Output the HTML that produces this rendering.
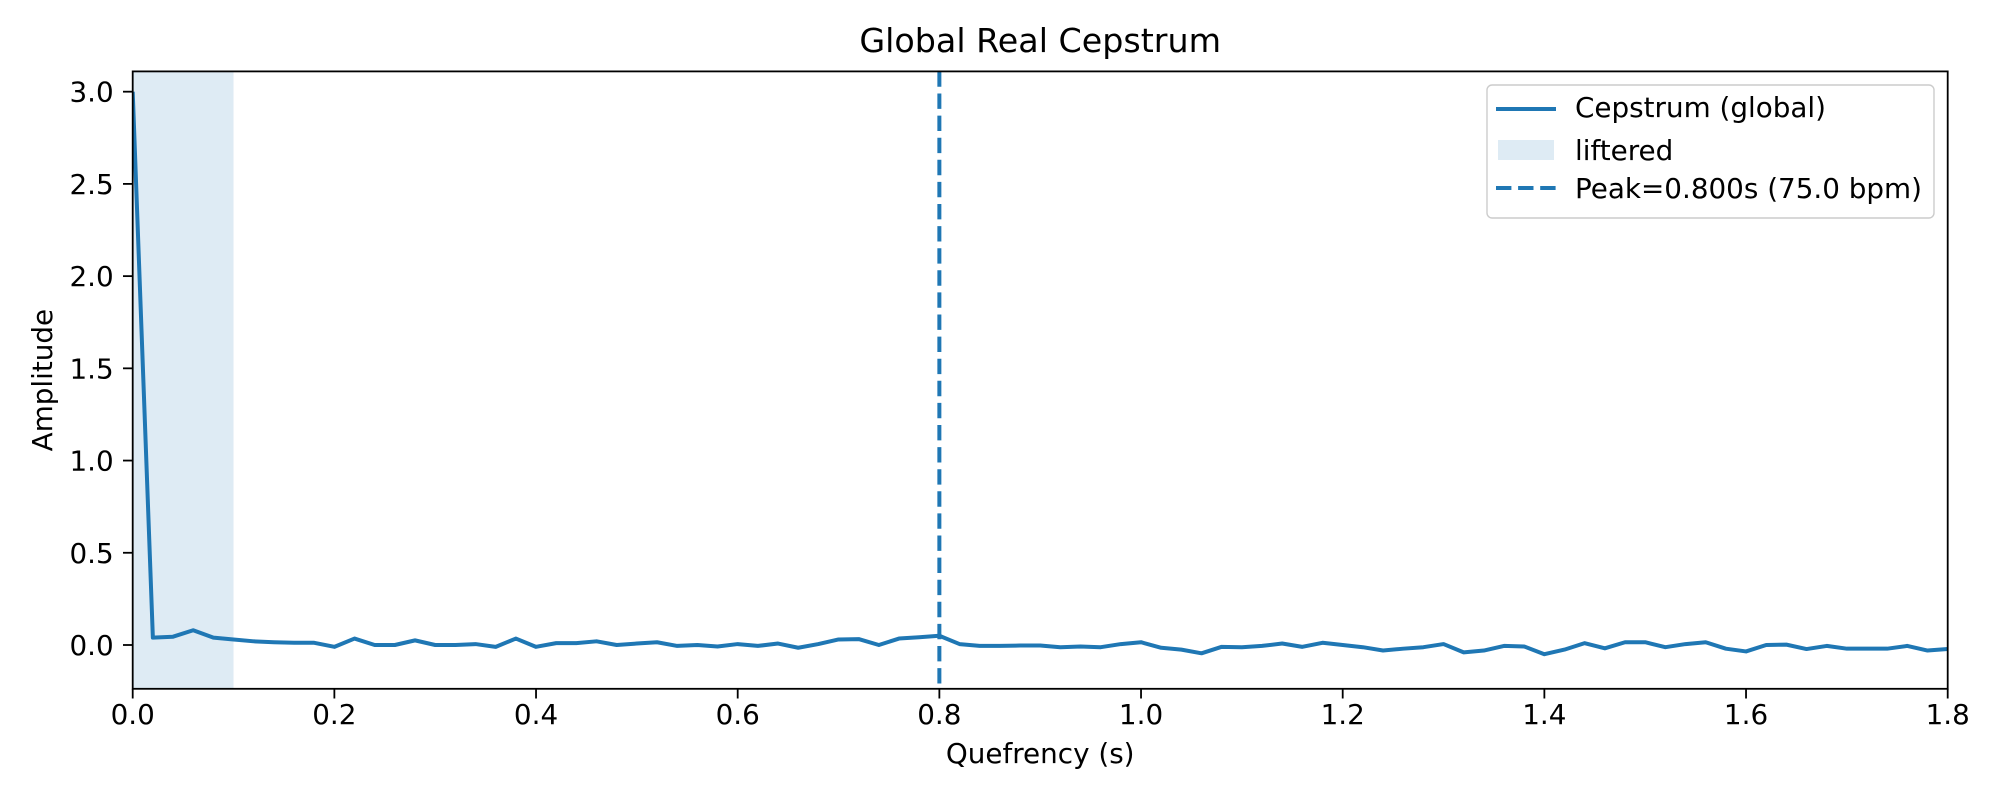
<!DOCTYPE html>
<html><head><meta charset="utf-8"><style>
body{margin:0;background:#fff;}
svg text{font-family:"DejaVu Sans","Liberation Sans",sans-serif;fill:#000;}
</style></head><body>
<svg width="2000" height="800" xmlns="http://www.w3.org/2000/svg">
<g id="plot"></g>
</svg>
<script>
const quefrency = [];
for (let i = 0; i <= 90; i++) quefrency.push(+(i*0.02).toFixed(2));
const amplitude = [3.0,0.04,0.045,0.08,0.04,0.03,0.02,0.015,0.012,0.012,-0.01,0.035,0.0,0.0,0.025,0.0,0.0,0.005,-0.01,0.035,
-0.01,0.01,0.01,0.02,0.0,0.008,0.015,-0.005,0.0,-0.008,0.005,-0.005,0.008,-0.015,0.005,0.03,0.032,0.0,0.035,0.042,
0.05,0.005,-0.005,-0.005,-0.003,-0.003,-0.012,-0.008,-0.012,0.005,0.015,-0.015,-0.025,-0.045,-0.01,-0.012,-0.005,0.008,-0.01,0.012,
0.0,-0.012,-0.03,-0.02,-0.012,0.005,-0.04,-0.03,-0.005,-0.008,-0.05,-0.025,0.01,-0.018,0.015,0.015,-0.012,0.005,0.015,-0.02,
-0.035,0.0,0.002,-0.022,-0.005,-0.02,-0.02,-0.02,-0.005,-0.03,-0.022];
const xTicks = [0.0,0.2,0.4,0.6,0.8,1.0,1.2,1.4,1.6,1.8];
const yTicks = [0.0,0.5,1.0,1.5,2.0,2.5,3.0];
const lifterEnd = 0.1;
const peak = 0.8;

const L=132.7,R=1947.7,T=71.4,B=688.8;
const xMin=0,xMax=1.8,yMin=-0.2375,yMax=3.11;
const sx=v=>L+(v-xMin)/(xMax-xMin)*(R-L);
const sy=v=>B-(v-yMin)/(yMax-yMin)*(B-T);
const NS="http://www.w3.org/2000/svg";
const g=document.getElementById('plot');
function mk(tag,attrs,parent){const e=document.createElementNS(NS,tag);for(const k in attrs)e.setAttribute(k,attrs[k]);(parent||g).appendChild(e);return e;}

const span=mk('rect',{x:sx(0),y:T,width:sx(lifterEnd)-sx(0),height:B-T,fill:'#1f77b4','fill-opacity':0.15});



const clip=mk('clipPath',{id:'c'});mk('rect',{x:L,y:T,width:R-L,height:B-T},clip);
const line=mk('polyline',{points:quefrency.map((q,i)=>sx(q)+','+sy(amplitude[i])).join(' '),fill:'none',stroke:'#1f77b4','stroke-width':4,'stroke-linejoin':'round','clip-path':'url(#c)'});



const pl=mk('line',{x1:sx(peak),x2:sx(peak),y1:T,y2:B,stroke:'#1f77b4','stroke-width':4,'stroke-dasharray':'15.4,6.7'});



const frame=mk('rect',{x:L,y:T,width:R-L,height:B-T,fill:'none',stroke:'#000','stroke-width':1.8});



xTicks.forEach(v=>{
  mk('line',{x1:sx(v),x2:sx(v),y1:B,y2:B+9.7,stroke:'#000','stroke-width':1.8});
  const t=mk('text',{x:sx(v),y:724,'text-anchor':'middle','font-size':27.8});t.textContent=v.toFixed(1);
  
  
});
yTicks.forEach(v=>{
  mk('line',{x1:L-9.7,x2:L,y1:sy(v),y2:sy(v),stroke:'#000','stroke-width':1.8});
  const t=mk('text',{x:L-19,y:sy(v)+10,'text-anchor':'end','font-size':27.8});t.textContent=v.toFixed(1);
  
  
});
let t=mk('text',{x:(L+R)/2,y:52,'text-anchor':'middle','font-size':33.3});t.textContent='Global Real Cepstrum';


t=mk('text',{x:(L+R)/2,y:763,'text-anchor':'middle','font-size':27.8});t.textContent='Quefrency (s)';


t=mk('text',{x:52,y:(T+B)/2,'text-anchor':'middle','font-size':27.8,transform:`rotate(-90 52 ${(T+B)/2})`});t.textContent='Amplitude';



const lg=mk('g',{});


mk('rect',{x:1487,y:85,width:447,height:133,rx:5,fill:'#fff',stroke:'#ccc','stroke-width':1.4},lg);
mk('line',{x1:1496,x2:1556,y1:109,y2:109,stroke:'#1f77b4','stroke-width':4},lg);
mk('rect',{x:1498,y:140,width:56,height:20,fill:'#1f77b4','fill-opacity':0.15},lg);
mk('line',{x1:1496,x2:1556,y1:188,y2:188,stroke:'#1f77b4','stroke-width':4,'stroke-dasharray':'15.4,6.7'},lg);
[['Cepstrum (global)',117],['liftered',160],['Peak=0.800s (75.0 bpm)',198]].forEach(([s,y])=>{
  const e=mk('text',{x:1575,y:y,'font-size':27.8},lg);e.textContent=s;
  
  
});
</script>
</body></html>
